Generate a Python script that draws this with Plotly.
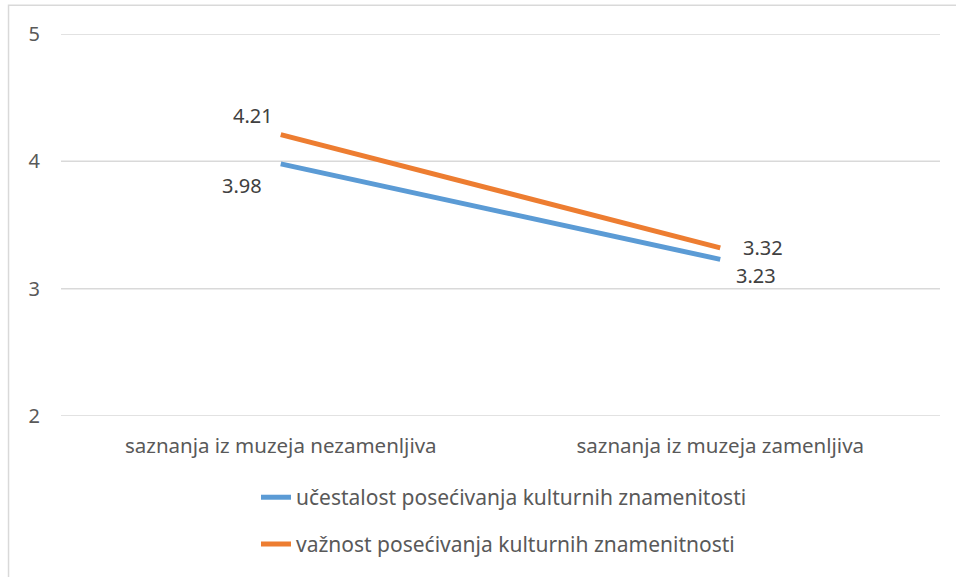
import plotly.graph_objects as go

categories = ["saznanja iz muzeja nezamenljiva", "saznanja iz muzeja zamenljiva"]
series_names = ["učestalost posećivanja kulturnih znamenitosti",
                "važnost posećivanja kulturnih znamenitnosti"]
ucestalost = [3.98, 3.23]
vaznost = [4.21, 3.32]
y_ticks = [2, 3, 4, 5]

BLUE = "#5B9BD5"
ORANGE = "#ED7D31"
TXT = "#595959"
FONT = "Noto Sans"

fig = go.Figure()
fig.add_trace(go.Scatter(x=categories, y=ucestalost, mode="lines", name=series_names[0],
                         line=dict(color=BLUE, width=5), legend="legend", cliponaxis=False))
fig.add_trace(go.Scatter(x=categories, y=vaznost, mode="lines", name=series_names[1],
                         line=dict(color=ORANGE, width=5), legend="legend2", cliponaxis=False))

# gridlines (drawn as shapes so the edge lines at 2 and 5 are shown)
for t in y_ticks:
    fig.add_shape(type="line", xref="paper", yref="y", x0=0, x1=1, y0=t, y1=t,
                  line=dict(color="#D9D9D9", width=1.5), layer="below")

# data labels
offsets_u = [(-39, -22), (36, -16)]
offsets_v = [(-28, 19), (43, 0)]
for cat, val, (dx, dy) in zip(categories, ucestalost, offsets_u):
    fig.add_annotation(x=cat, y=val, text=f"{val:.2f}", showarrow=False,
                       xshift=dx, yshift=dy, font=dict(family=FONT, size=20, color="#404040"))
for cat, val, (dx, dy) in zip(categories, vaznost, offsets_v):
    fig.add_annotation(x=cat, y=val, text=f"{val:.2f}", showarrow=False,
                       xshift=dx, yshift=dy, font=dict(family=FONT, size=20, color="#404040"))

fig.add_shape(type="rect", xref="paper", yref="paper", x0=-0.0597, x1=1.3, y0=-0.7, y1=1.0755,
              line=dict(color="#D9D9D9", width=1.5), fillcolor="rgba(0,0,0,0)", layer="below")

LX = (256 - 61) / 879
fig.update_layout(
    width=956, height=577,
    margin=dict(l=61, r=16, t=34, b=159),
    paper_bgcolor="white", plot_bgcolor="white",
    font=dict(family=FONT, size=20, color=TXT),
    xaxis=dict(type="category", range=[-0.5, 1.5], showgrid=False, showline=False,
               zeroline=False, ticks="", ticklabelstandoff=15,
               tickfont=dict(family=FONT, size=20.5, color=TXT)),
    yaxis=dict(range=[2, 5], tickvals=y_ticks, showgrid=False,
               zeroline=False, showline=False, ticks="",
               ticklabelstandoff=20, tickfont=dict(family=FONT, size=20, color=TXT)),
    legend=dict(x=LX, xanchor="left", y=(418 - 500) / 384, yanchor="middle",
                bgcolor="rgba(0,0,0,0)", font=dict(family=FONT, size=21, color=TXT)),
    legend2=dict(x=LX, xanchor="left", y=(418 - 547) / 384, yanchor="middle",
                 bgcolor="rgba(0,0,0,0)", font=dict(family=FONT, size=21, color=TXT)),
    showlegend=True,
)

fig.write_html("out.html", config={"displayModeBar": False},
               post_script="document.body.style.margin='0';")
